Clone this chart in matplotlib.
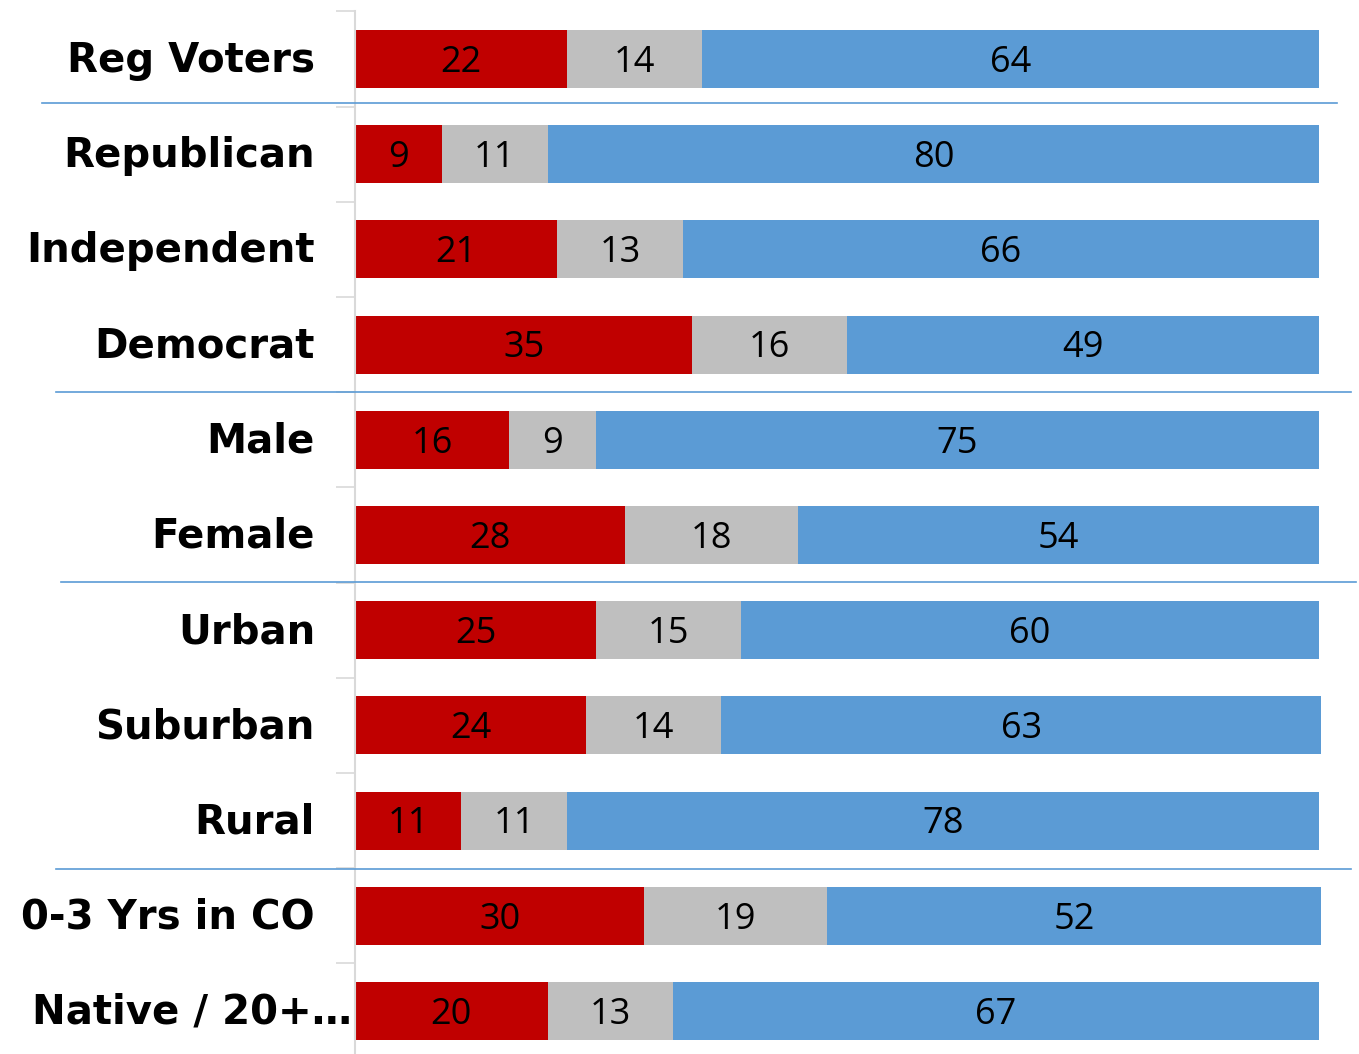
import numpy as np
import matplotlib.pyplot as plt
from matplotlib.lines import Line2D

# ---- data ----
categories = ["Reg Voters", "Republican", "Independent", "Democrat", "Male", "Female",
              "Urban", "Suburban", "Rural", "0-3 Yrs in CO", "Native / 20+\u2026"]
red_vals  = [22, 9, 21, 35, 16, 28, 25, 24, 11, 30, 20]
grey_vals = [14, 11, 13, 16, 9, 18, 15, 14, 11, 19, 13]
blue_vals = [64, 80, 66, 49, 75, 54, 60, 63, 78, 52, 67]
# bar lengths as drawn in the picture (rounded labels of some rows add up to 101)
blue_len  = [64, 80, 66, 49, 75, 54, 60, 62.2, 78, 51.2, 67]

RED, GREY, BLUE = "#C00000", "#BFBFBF", "#5B9BD5"
W, H = 1359, 1054

fig = plt.figure(figsize=(W / 100, H / 100), dpi=100)
fig.patch.set_facecolor("white")

# axes placed in pixel terms: x=0 at 355px, 100 units = 964px; rows 95.2px apart
row_h = 95.2
top_px = 11.4
px_per_unit = 9.64
ax_left = 355 / W
ax_top = 1 - top_px / H
ax_h = len(categories) * row_h / H
ax = fig.add_axes([ax_left, ax_top - ax_h, 1 - ax_left, ax_h])
ax.set_xlim(0, (W - 355) / px_per_unit)
ax.set_ylim(len(categories) - 0.5, -0.5)

y = np.arange(len(categories))
red = np.array(red_vals)
grey = np.array(grey_vals)
blue = np.array(blue_len)
bh = 0.61

ax.barh(y, red, height=bh, color=RED, linewidth=0)
ax.barh(y, grey, left=red, height=bh, color=GREY, linewidth=0)
ax.barh(y, blue, left=red + grey, height=bh, color=BLUE, linewidth=0)

lab_font = dict(family=["Open Sans", "DejaVu Sans"], fontsize=26, color="black",
                ha="center", va="center")
for i in range(len(categories)):
    ax.text(red[i] / 2, i + 0.04, str(red_vals[i]), **lab_font)
    ax.text(red[i] + grey[i] / 2, i + 0.04, str(grey_vals[i]), **lab_font)
    ax.text(red[i] + grey[i] + blue[i] / 2, i + 0.04, str(blue_vals[i]), **lab_font)

# y axis: grey spine, ticks at category boundaries
for s in ["top", "right", "bottom"]:
    ax.spines[s].set_visible(False)
ax.spines["left"].set_color("#D9D9D9")
ax.spines["left"].set_linewidth(1.5)
ax.set_xticks([])
ax.set_yticks(np.arange(-0.5, len(categories), 1.0))
ax.set_yticklabels([])
ax.tick_params(axis="y", length=14, width=1.2, color="#D9D9D9")
for i, c in enumerate(categories):
    # the truncated last label runs right up to the axis
    xoff = -3 if i == len(categories) - 1 else -40
    ax.text(xoff / px_per_unit, i + 0.02, c, ha="right", va="center", fontsize=29,
            fontweight="bold", family=["DejaVu Sans"], color="black")

# blue group separators (figure pixel coords)
seps = [(103, 42, 1337), (392, 56, 1351), (582, 61, 1356), (869, 56, 1351)]
for yp, x0, x1 in seps:
    fig.add_artist(Line2D([x0 / W, x1 / W], [1 - yp / H, 1 - yp / H],
                          color=BLUE, linewidth=1.2, transform=fig.transFigure))

fig.savefig("out.png", dpi=100, facecolor="white")
